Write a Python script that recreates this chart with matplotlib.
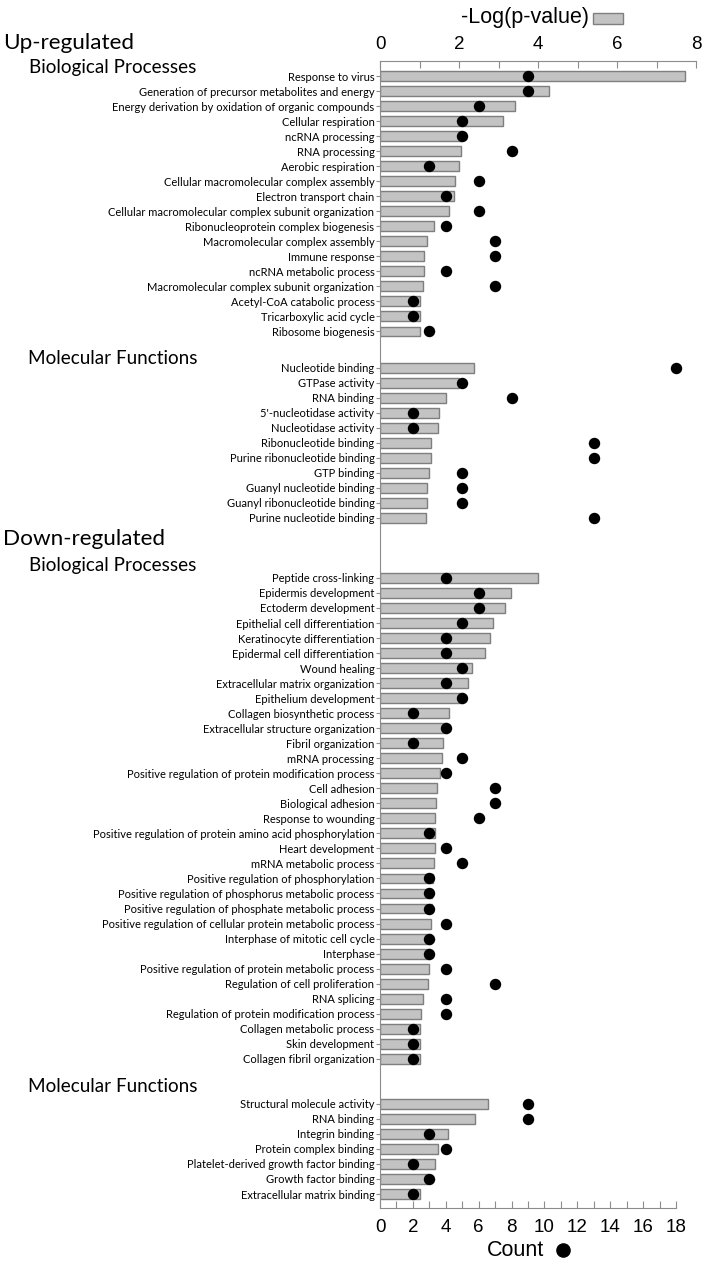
import numpy as np
import matplotlib
matplotlib.use("Agg")
import matplotlib.pyplot as plt

# Up-regulated, biological processes
up_bp_terms = ["Response to virus", "Generation of precursor metabolites and energy",
               "Energy derivation by oxidation of organic compounds", "Cellular respiration",
               "ncRNA processing", "RNA processing", "Aerobic respiration",
               "Cellular macromolecular complex assembly", "Electron transport chain",
               "Cellular macromolecular complex subunit organization",
               "Ribonucleoprotein complex biogenesis", "Macromolecular complex assembly",
               "Immune response", "ncRNA metabolic process",
               "Macromolecular complex subunit organization", "Acetyl-CoA catabolic process",
               "Tricarboxylic acid cycle", "Ribosome biogenesis"]
up_bp_logp = [7.72, 4.28, 3.43, 3.11, 2.07, 2.05, 2.0, 1.91, 1.87, 1.74, 1.37, 1.19,
              1.12, 1.11, 1.08, 1.0, 1.0, 1.0]
up_bp_count = [9, 9, 6, 5, 5, 8, 3, 6, 4, 6, 4, 7, 7, 4, 7, 2, 2, 3]

# Up-regulated, molecular functions
up_mf_terms = ["Nucleotide binding", "GTPase activity", "RNA binding", "5'-nucleotidase activity",
               "Nucleotidase activity", "Ribonucleotide binding", "Purine ribonucleotide binding",
               "GTP binding", "Guanyl nucleotide binding", "Guanyl ribonucleotide binding",
               "Purine nucleotide binding"]
up_mf_logp = [2.38, 2.0, 1.67, 1.50, 1.46, 1.30, 1.30, 1.23, 1.19, 1.19, 1.17]
up_mf_count = [18, 5, 8, 2, 2, 13, 13, 5, 5, 5, 13]

# Down-regulated, biological processes
dn_bp_terms = ["Peptide cross-linking", "Epidermis development", "Ectoderm development",
               "Epithelial cell differentiation", "Keratinocyte differentiation",
               "Epidermal cell differentiation", "Wound healing",
               "Extracellular matrix organization", "Epithelium development",
               "Collagen biosynthetic process", "Extracellular structure organization",
               "Fibril organization", "mRNA processing",
               "Positive regulation of protein modification process", "Cell adhesion",
               "Biological adhesion", "Response to wounding",
               "Positive regulation of protein amino acid phosphorylation", "Heart development",
               "mRNA metabolic process", "Positive regulation of phosphorylation",
               "Positive regulation of phosphorus metabolic process",
               "Positive regulation of phosphate metabolic process",
               "Positive regulation of cellular protein metabolic process",
               "Interphase of mitotic cell cycle", "Interphase",
               "Positive regulation of protein metabolic process",
               "Regulation of cell proliferation", "RNA splicing",
               "Regulation of protein modification process", "Collagen metabolic process",
               "Skin development", "Collagen fibril organization"]
dn_bp_logp = [3.99, 3.32, 3.16, 2.86, 2.79, 2.67, 2.34, 2.22, 2.09, 1.74, 1.69, 1.60, 1.56,
              1.53, 1.44, 1.42, 1.40, 1.38, 1.38, 1.37, 1.33, 1.32, 1.32, 1.28, 1.28, 1.26,
              1.24, 1.22, 1.09, 1.05, 1.0, 1.0, 1.0]
dn_bp_count = [4, 6, 6, 5, 4, 4, 5, 4, 5, 2, 4, 2, 5, 4, 7, 7, 6, 3, 4, 5, 3, 3, 3, 4, 3, 3,
               4, 7, 4, 4, 2, 2, 2]

# Down-regulated, molecular functions
dn_mf_terms = ["Structural molecule activity", "RNA binding", "Integrin binding",
               "Protein complex binding", "Platelet-derived growth factor binding",
               "Growth factor binding", "Extracellular matrix binding"]
dn_mf_logp = [2.74, 2.41, 1.71, 1.46, 1.40, 1.22, 1.02]
dn_mf_count = [9, 9, 3, 4, 2, 3, 2]

sections = [(up_bp_terms, up_bp_logp, up_bp_count),
            (up_mf_terms, up_mf_logp, up_mf_count),
            (dn_bp_terms, dn_bp_logp, dn_bp_count),
            (dn_mf_terms, dn_mf_logp, dn_mf_count)]
gaps = [0, 2.4, 4.0, 3.0]   # empty space (in rows) before each block

terms, logp, count, ypos = [], [], [], []
y = 0.0
for (t, l, c), g in zip(sections, gaps):
    y += g
    for i in range(len(t)):
        terms.append(t[i]); logp.append(l[i]); count.append(c[i]); ypos.append(y)
        y += 1
    y -= 1

fig = plt.figure(figsize=(7.14, 12.7), dpi=100)
ax_top, ax_bot = 61, 1208
ax = fig.add_axes([380/714, 1-ax_bot/1270, 316/714, (ax_bot-ax_top)/1270])
ax2 = ax.twiny()

grey = "#8c8c8c"
tickfont = "Liberation Sans"

# bars: -log(p-value), top axis
ax.barh(ypos, logp, height=0.66, color="#c3c3c3", edgecolor="#7f7f7f", linewidth=1)
ax.set_xlim(0, 8)
ax.set_ylim(ypos[-1] + 0.93, -1.0)
ax.set_yticks(ypos)
ax.set_yticklabels(terms, family="Lato", fontsize=8)
ax.tick_params(axis="y", length=3, width=0.8, color=grey, pad=1)
ax.xaxis.tick_top()
ax.set_xticks([0, 2, 4, 6, 8])
ax.set_xticks([1, 3, 5, 7], minor=True)
ax.tick_params(axis="x", which="both", direction="in", length=5, width=0.8, color=grey,
               labelsize=13.5, pad=6)
for lb in ax.get_xticklabels():
    lb.set_family(tickfont)
for s in ["right", "bottom"]:
    ax.spines[s].set_visible(False)
ax.spines["top"].set_color(grey)
ax.spines["left"].set_color(grey)

# dots: count, bottom axis
cmax = 18 * 316 / 296
ax2.scatter(count, ypos, s=52, color="black", zorder=5, clip_on=False)
ax2.set_xlim(0, cmax)
ax2.xaxis.tick_bottom()
ax2.set_xticks(np.arange(0, 19, 2))
ax2.set_xticks(np.arange(1, 18, 2), minor=True)
ax2.tick_params(axis="x", which="both", direction="in", length=5, width=0.8, color=grey,
                labelsize=13.5, pad=8)
for lb in ax2.get_xticklabels():
    lb.set_family(tickfont)
for s in ["right", "top", "left"]:
    ax2.spines[s].set_visible(False)
ax2.spines["bottom"].set_color(grey)
ax2.spines["bottom"].set_bounds(0, 18)

# section headers
hf = "Lato"
fig.text(3/714, 1-43/1270, "Up-regulated", fontsize=16.2, family=hf, va="center")
fig.text(29/714, 1-68/1270, "Biological Processes", fontsize=13.6, family=hf, va="center")
fig.text(28/714, 1-359/1270, "Molecular Functions", fontsize=13.6, family=hf, va="center")
fig.text(3/714, 1-539/1270, "Down-regulated", fontsize=16.2, family=hf, va="center")
fig.text(29/714, 1-565/1270, "Biological Processes", fontsize=13.6, family=hf, va="center")
fig.text(28/714, 1-1086/1270, "Molecular Functions", fontsize=13.6, family=hf, va="center")

# legend keys
fig.text(589/714, 1-18/1270, "-Log(p-value)", fontsize=15.5, family=tickfont,
         ha="right", va="center")
fig.patches.append(plt.Rectangle((593/714, 1-24/1270), 30/714, 11/1270, transform=fig.transFigure,
                                 facecolor="#c3c3c3", edgecolor="#7f7f7f", linewidth=1))
fig.text(544/714, 1-1250/1270, "Count", fontsize=15.5, family=tickfont,
         ha="right", va="center")
fig.lines.append(plt.Line2D([563/714], [1-1250/1270], transform=fig.transFigure, marker="o",
                            markersize=9.5, color="black"))

fig.savefig("out.png", dpi=100)
